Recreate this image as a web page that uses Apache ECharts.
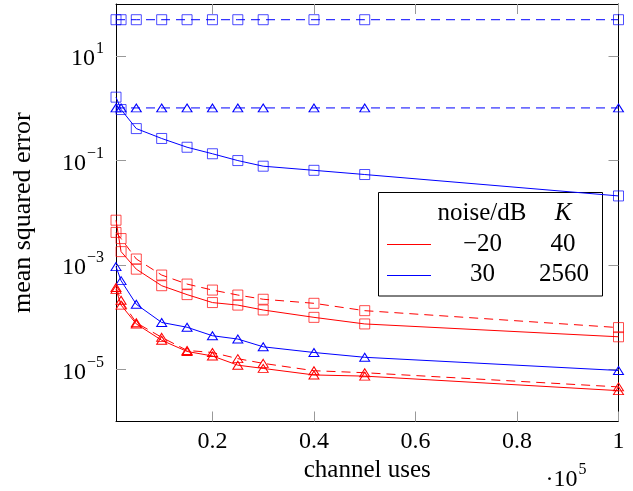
<!DOCTYPE html>
<html>
<head>
<meta charset="utf-8">
<script src="https://cdn.jsdelivr.net/npm/echarts@6/dist/echarts.min.js"></script>
<style>html,body{margin:0;padding:0;background:#fff}#c{width:633px;height:491px}</style>
</head>
<body>
<div id="c"></div>
<script>
const channelUses = [1000, 2000, 5000, 10000, 15000, 20000, 25000, 30000, 40000, 50000, 100000];
const xTickValues = [20000, 40000, 60000, 80000, 100000];
const yTickExponents = [-5, -3, -1, 1];

const blueSquareDashed = [50, 50, 50, 50, 50, 50, 50, 50, 50, 50, 50];
const blueTriDashed = [1.02, 1.02, 1.02, 1.02, 1.02, 1.02, 1.02, 1.02, 1.02, 1.02, 1.02];
const blueSquareSolid = [1.64, 0.95, 0.41, 0.265, 0.18, 0.135, 0.10, 0.078, 0.065, 0.054, 0.021];
const blueTriSolid = [9.3e-4, 5.0e-4, 1.76e-4, 7.9e-5, 6.4e-5, 4.4e-5, 3.8e-5, 2.7e-5, 2.1e-5, 1.7e-5, 9.5e-6];
const redSquareSolid = [7.2e-3, 1.8e-3, 8.3e-4, 4.0e-4, 2.7e-4, 1.9e-4, 1.7e-4, 1.37e-4, 9.9e-5, 7.4e-5, 4.2e-5];
const redSquareDashed = [4.2e-3, 3.2e-3, 1.3e-3, 6.4e-4, 4.3e-4, 3.3e-4, 2.65e-4, 2.2e-4, 1.84e-4, 1.33e-4, 6.3e-5];
const redTriSolid = [3.4e-4, 1.7e-4, 7.4e-5, 3.6e-5, 2.2e-5, 1.8e-5, 1.2e-5, 1.04e-5, 7.8e-6, 7.4e-6, 3.9e-6];
const redTriDashed = [3.7e-4, 2.1e-4, 7.8e-5, 4.1e-5, 2.3e-5, 2.1e-5, 1.6e-5, 1.3e-5, 9.4e-6, 8.6e-6, 4.6e-6];

const legendHeader = ['noise/dB', 'K'];
const legendRows = [['−20', '40'], ['30', '2560']];

const FONT = '"Liberation Serif", "DejaVu Serif", serif';
const RED = '#ff0000', BLUE = '#0000ff';

function pairs(ys) { return channelUses.map((x, i) => [x, ys[i]]); }
function mk(name, ys, color, symbol, dashed) {
  const isSquare = symbol === 'rect';
  return {
    name, type: 'line', data: pairs(ys), xAxisIndex: 0, yAxisIndex: 0,
    symbol, symbolSize: isSquare ? 10 : [10, 8], showSymbol: true,
    itemStyle: { color: 'none', borderColor: color, borderWidth: 1, opacity: isSquare ? 0.7 : 1 },
    lineStyle: { color, width: 1, type: dashed ? [9, 6] : 'solid' },
    emphasis: { disabled: true }, animation: false
  };
}
function supLabel(v) {
  const e = v < 0 ? '−' + (-v) : String(v);
  return '{b|10}{s|' + e + '}';
}

const chart = echarts.init(document.getElementById('c'), null, { renderer: 'canvas' });
const tickStyle = { show: true, inside: true, length: 10, lineStyle: { color: '#999', width: 1 } };
chart.setOption({
  animation: false,
  backgroundColor: '#fff',
  grid: { left: 116, right: 14.5, top: 4, bottom: 69.5, containLabel: false },
  xAxis: [
    { type: 'value', position: 'bottom', min: 1000, max: 100000,
      axisLine: { show: true, onZero: false, lineStyle: { color: '#000', width: 1 } },
      axisTick: Object.assign({ customValues: xTickValues }, tickStyle),
      axisLabel: { customValues: xTickValues, margin: 8, color: '#000', fontFamily: FONT, fontSize: 24,
        formatter: v => String(+(v / 100000).toFixed(1)) },
      splitLine: { show: false },
      name: 'channel uses', nameLocation: 'middle', nameGap: 33,
      nameTextStyle: { color: '#000', fontFamily: FONT, fontSize: 25 } },
    { type: 'value', position: 'top', min: 1000, max: 100000,
      axisLine: { show: true, onZero: false, lineStyle: { color: '#000', width: 1 } },
      axisTick: Object.assign({ customValues: xTickValues }, tickStyle),
      axisLabel: { show: false }, splitLine: { show: false } }
  ],
  yAxis: [
    { type: 'log', logBase: 10, position: 'left', min: 1e-6, max: 1e2,
      axisLine: { show: true, onZero: false, lineStyle: { color: '#000', width: 1 } },
      axisTick: { show: false }, axisLabel: { show: false }, splitLine: { show: false }, minorTick: { show: false },
      name: 'mean squared error', nameLocation: 'middle', nameGap: 80, nameRotate: 90,
      nameTextStyle: { color: '#000', fontFamily: FONT, fontSize: 26 } },
    { type: 'value', position: 'left', min: -6, max: 2,
      axisLine: { show: false },
      axisTick: Object.assign({ customValues: yTickExponents }, tickStyle),
      axisLabel: { customValues: yTickExponents, margin: 12, color: '#000', formatter: supLabel,
        rich: { b: { fontFamily: FONT, fontSize: 24, color: '#000', padding: [6, 0, 0, 0] },
                s: { fontFamily: FONT, fontSize: 16, color: '#000', verticalAlign: 'top', padding: [0, 0, 0, 1] } } },
      splitLine: { show: false } },
    { type: 'value', position: 'right', min: -6, max: 2,
      axisLine: { show: true, onZero: false, lineStyle: { color: '#000', width: 1 } },
      axisTick: Object.assign({ customValues: yTickExponents }, tickStyle),
      axisLabel: { show: false }, splitLine: { show: false } }
  ],
  series: [
    mk('blueSquareDashed', blueSquareDashed, BLUE, 'rect', true),
    mk('blueTriDashed', blueTriDashed, BLUE, 'triangle', true),
    mk('blueSquareSolid', blueSquareSolid, BLUE, 'rect', false),
    mk('blueTriSolid', blueTriSolid, BLUE, 'triangle', false),
    mk('redSquareDashed', redSquareDashed, RED, 'rect', true),
    mk('redSquareSolid', redSquareSolid, RED, 'rect', false),
    mk('redTriDashed', redTriDashed, RED, 'triangle', true),
    mk('redTriSolid', redTriSolid, RED, 'triangle', false)
  ],
  graphic: [
    { type: 'group', z: 100, children: [
      { type: 'rect', shape: { x: 378.5, y: 192.5, width: 224, height: 103.5 },
        style: { fill: '#fff', stroke: '#000', lineWidth: 1 } },
      { type: 'line', shape: { x1: 387, y1: 244.5, x2: 431, y2: 244.5 }, style: { stroke: RED, lineWidth: 1 } },
      { type: 'line', shape: { x1: 387, y1: 275.5, x2: 431, y2: 275.5 }, style: { stroke: BLUE, lineWidth: 1 } },
      { type: 'text', x: 482, y: 213.5, style: { text: legendHeader[0], font: '25px ' + FONT, fill: '#000', align: 'center', verticalAlign: 'middle' } },
      { type: 'text', x: 563, y: 213.5, style: { text: legendHeader[1], font: 'italic 25px ' + FONT, fill: '#000', align: 'center', verticalAlign: 'middle' } },
      { type: 'text', x: 482.5, y: 244, style: { text: legendRows[0][0], font: '25px ' + FONT, fill: '#000', align: 'center', verticalAlign: 'middle' } },
      { type: 'text', x: 563, y: 244, style: { text: legendRows[0][1], font: '25px ' + FONT, fill: '#000', align: 'center', verticalAlign: 'middle' } },
      { type: 'text', x: 482.5, y: 274, style: { text: legendRows[1][0], font: '25px ' + FONT, fill: '#000', align: 'center', verticalAlign: 'middle' } },
      { type: 'text', x: 564, y: 274, style: { text: legendRows[1][1], font: '25px ' + FONT, fill: '#000', align: 'center', verticalAlign: 'middle' } }
    ] },
    { type: 'text', z: 100, x: 566, y: 477, style: {
        text: '{a|·10}{s|5}', align: 'center', verticalAlign: 'middle',
        rich: { a: { fontFamily: FONT, fontSize: 24, fill: '#000', padding: [6, 0, 0, 0] },
                s: { fontFamily: FONT, fontSize: 16, fill: '#000', verticalAlign: 'top', padding: [0, 0, 0, 1] } } } }
  ]
});
</script>
</body>
</html>
